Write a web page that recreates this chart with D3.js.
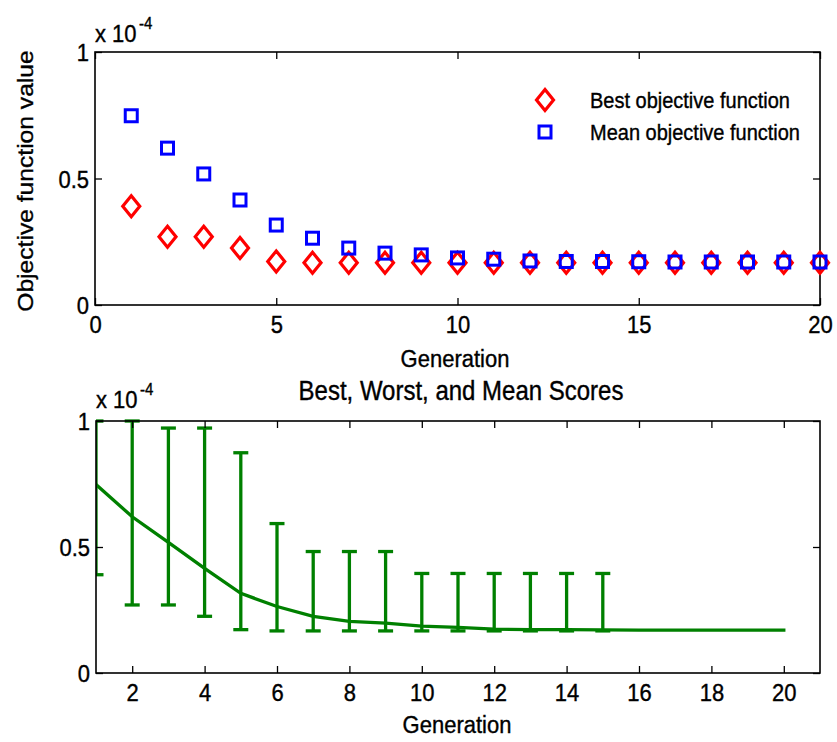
<!DOCTYPE html>
<html>
<head>
<meta charset="utf-8">
<script src="https://cdn.jsdelivr.net/npm/d3@7"></script>
<style>
  body { margin: 0; background: #fff; }
  svg { display: block; font-family: "Liberation Sans", Arial, sans-serif; }
  svg text { stroke: #000; stroke-width: 0.35px; }
</style>
</head>
<body>
<div class="chart"></div>
<script>
'use strict';

// values are in units of 1e-4
var generations = d3.range(1, 21);
var bestScores  = [0.39, 0.27, 0.27, 0.225, 0.172, 0.167, 0.167, 0.167, 0.167, 0.167,
                   0.167, 0.167, 0.167, 0.167, 0.167, 0.167, 0.167, 0.167, 0.167, 0.167];
var meanScores  = [0.748, 0.62, 0.518, 0.415, 0.316, 0.264, 0.225, 0.205, 0.198, 0.186,
                   0.181, 0.174, 0.172, 0.172, 0.171, 0.17, 0.17, 0.17, 0.17, 0.17];
var worstScores = [1.0, 1.0, 0.972, 0.972, 0.874, 0.593, 0.482, 0.482, 0.482, 0.395,
                   0.395, 0.395, 0.395, 0.395, 0.395, 0.17, 0.17, 0.17, 0.17, 0.17];
var topXTicks = [0, 5, 10, 15, 20];
var bottomXTicks = [2, 4, 6, 8, 10, 12, 14, 16, 18, 20];
var yTicks = [0, 0.5, 1];
var legendLabels = ["Best objective function", "Mean objective function"];

var width = 837, height = 742;
var stretch = 1.12;   // the picture is a bit taller than wide
var fontSize = 22;
var red = "#ff0000", blue = "#0000ff", green = "#008000";

var rows = generations.map((g, i) => ({gen: g, best: bestScores[i], mean: meanScores[i], worst: worstScores[i]}));

var svg = d3.select(".chart").append("svg")
    .attr("width", width)
    .attr("height", height);

// text with the vertical stretch, anchored on baseline at (x, y)
function label(g, x, y, txt, size, anchor, rotate) {
    return g.append("text")
        .attr("transform", `translate(${x},${y}) scale(1,${stretch})` + (rotate ? " rotate(-90)" : ""))
        .attr("font-size", size)
        .attr("fill", "#000")
        .style("text-anchor", anchor)
        .text(txt);
}

function drawAxes(box, x, y, xTicks) {
    var g = svg.append("g");
    // ticks on all four sides, pointing in
    g.append("g").attr("transform", `translate(0,${box.bottom})`)
        .call(d3.axisBottom(x).tickValues(xTicks).tickSizeInner(-7).tickSizeOuter(0))
        .call(a => {
            a.select(".domain").remove();
            a.selectAll("line").attr("stroke", "#000").attr("stroke-width", 1.3);
            a.selectAll("text")
                .attr("font-size", fontSize).attr("fill", "#000")
                .attr("dy", null).attr("y", 28.5 / stretch)
                .attr("transform", `scale(1,${stretch})`);
        });
    g.append("g").attr("transform", `translate(0,${box.top})`)
        .call(d3.axisTop(x).tickValues(xTicks).tickSizeInner(-7).tickSizeOuter(0).tickFormat(""))
        .call(a => { a.select(".domain").remove(); a.selectAll("line").attr("stroke", "#000").attr("stroke-width", 1.3); });
    g.append("g").attr("transform", `translate(${box.left},0)`)
        .call(d3.axisLeft(y).tickValues(yTicks).tickSizeInner(-7).tickSizeOuter(0).tickFormat(d3.format("")))
        .call(a => {
            a.select(".domain").remove();
            a.selectAll("line").attr("stroke", "#000").attr("stroke-width", 1.3);
            a.selectAll("text")
                .attr("font-size", fontSize).attr("fill", "#000")
                .attr("dy", null).attr("x", -6).attr("y", 8.6 / stretch)
                .attr("transform", `scale(1,${stretch})`);
        });
    g.append("g").attr("transform", `translate(${box.right},0)`)
        .call(d3.axisRight(y).tickValues(yTicks).tickSizeInner(-7).tickSizeOuter(0).tickFormat(""))
        .call(a => { a.select(".domain").remove(); a.selectAll("line").attr("stroke", "#000").attr("stroke-width", 1.3); });

    g.append("rect")
        .attr("x", box.left).attr("y", box.top)
        .attr("width", box.right - box.left).attr("height", box.bottom - box.top)
        .attr("fill", "none").attr("stroke", "#000").attr("stroke-width", 1.6);

    // exponent
    label(g, box.left, box.top - box.expOffset, "x 10", fontSize, "start");
    label(g, box.left + 44, box.top - box.expOffset - 13, "-4", 15, "start");
    return g;
}

var diamond = (cx, cy) => `M${cx},${cy - 10.5}L${cx + 8.5},${cy}L${cx},${cy + 10.5}L${cx - 8.5},${cy}Z`;

// ---- top plot ----
var topBox = {left: 95, right: 820, top: 52, bottom: 305, expOffset: 10};
var x1 = d3.scaleLinear().domain([0, 20]).range([topBox.left, topBox.right]);
var y1 = d3.scaleLinear().domain([0, 1]).range([topBox.bottom, topBox.top]);

drawAxes(topBox, x1, y1, topXTicks);

svg.append("g").selectAll("path")
    .data(rows)
    .enter().append("path")
    .attr("d", d => diamond(x1(d.gen), y1(d.best)))
    .attr("fill", "none").attr("stroke", red).attr("stroke-width", 3.2);

svg.append("g").selectAll("rect")
    .data(rows)
    .enter().append("rect")
    .attr("x", d => x1(d.gen) - 6).attr("y", d => y1(d.mean) - 6)
    .attr("width", 12).attr("height", 12)
    .attr("fill", "none").attr("stroke", blue).attr("stroke-width", 3);

label(svg, 455, 367, "Generation", fontSize, "middle");
label(svg, 33, 181, "Objective function value", fontSize, "middle", true);

// legend
var legend = svg.append("g");
legend.append("path").attr("d", diamond(545, 100))
    .attr("fill", "none").attr("stroke", red).attr("stroke-width", 3.2);
legend.append("rect").attr("x", 539).attr("y", 126).attr("width", 12).attr("height", 12)
    .attr("fill", "none").attr("stroke", blue).attr("stroke-width", 3);
label(legend, 590, 108, legendLabels[0], 20, "start");
label(legend, 590, 140, legendLabels[1], 20, "start");

// ---- bottom plot ----
var botBox = {left: 96, right: 820, top: 421, bottom: 673, expOffset: 13};
var x2 = d3.scaleLinear().domain([1, 21]).range([botBox.left, botBox.right]);
var y2 = d3.scaleLinear().domain([0, 1]).range([botBox.bottom, botBox.top]);

svg.append("clipPath").attr("id", "clip-bottom")
    .append("rect")
    .attr("x", botBox.left).attr("y", botBox.top - 2)
    .attr("width", botBox.right - botBox.left).attr("height", botBox.bottom - botBox.top + 2);

var plot2 = svg.append("g").attr("clip-path", "url(#clip-bottom)");

plot2.append("path")
    .datum(rows)
    .attr("d", d3.line().x(d => x2(d.gen)).y(d => y2(d.mean)))
    .attr("fill", "none").attr("stroke", green).attr("stroke-width", 3.3)
    .attr("stroke-linecap", "square");

var bars = plot2.append("g").selectAll("g")
    .data(rows.filter(d => d.worst - d.best > 0.01))
    .enter().append("g")
    .attr("stroke", green).attr("stroke-width", 3.3);

bars.append("line")
    .attr("x1", d => x2(d.gen)).attr("x2", d => x2(d.gen))
    .attr("y1", d => y2(d.worst)).attr("y2", d => y2(d.best));
bars.append("line")
    .attr("x1", d => x2(d.gen) - 7.5).attr("x2", d => x2(d.gen) + 7.5)
    .attr("y1", d => y2(d.worst)).attr("y2", d => y2(d.worst));
bars.append("line")
    .attr("x1", d => x2(d.gen) - 7.5).attr("x2", d => x2(d.gen) + 7.5)
    .attr("y1", d => y2(d.best)).attr("y2", d => y2(d.best));

drawAxes(botBox, x2, y2, bottomXTicks);

label(svg, 461, 400, "Best, Worst, and Mean Scores", 24, "middle");
label(svg, 457, 733, "Generation", fontSize, "middle");
</script>
</body>
</html>
